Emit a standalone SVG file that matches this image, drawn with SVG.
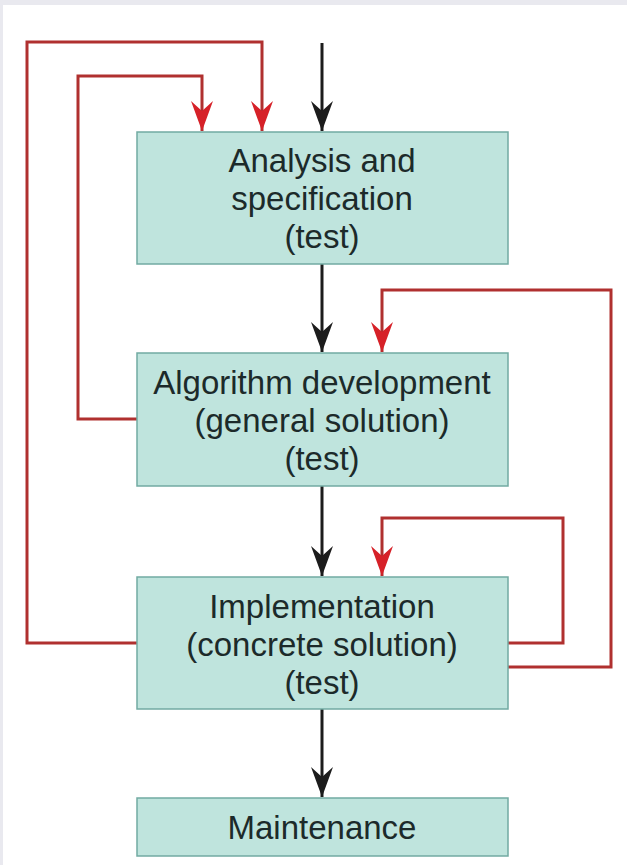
<svg xmlns="http://www.w3.org/2000/svg" width="627" height="865" viewBox="0 0 627 865">
<defs>
<style>
.box{fill:#bfe4dd;stroke:#72aaa2;stroke-width:1.5}
.lbl{font-family:"Liberation Sans",Arial,sans-serif;font-size:33px;fill:#1c2a2a;text-anchor:middle}
.blk{fill:none;stroke:#1c1c1c;stroke-width:3}
.red{fill:none;stroke:#b0302f;stroke-width:3}
</style>
<marker id="ahB" viewBox="-31 -12 32 24" markerWidth="32" markerHeight="24" refX="0" refY="0" markerUnits="userSpaceOnUse" orient="auto">
<path d="M0,0 L-30,-11 L-20,0 L-30,11 Z" fill="#1c1c1c"/>
</marker>
<marker id="ahR" viewBox="-31 -12 32 24" markerWidth="32" markerHeight="24" refX="0" refY="0" markerUnits="userSpaceOnUse" orient="auto">
<path d="M0,0 L-30,-11 L-20,0 L-30,11 Z" fill="#d62128"/>
</marker>
</defs>
<rect x="0" y="0" width="627" height="865" fill="#e9e9ef"/>
<rect x="3" y="5" width="624" height="860" fill="#ffffff"/>
<g id="connectors">
<path class="blk" d="M322,43 V131" marker-end="url(#ahB)"/>
<path class="blk" d="M322,264 V352" marker-end="url(#ahB)"/>
<path class="blk" d="M322,486 V576" marker-end="url(#ahB)"/>
<path class="blk" d="M322,709 V797" marker-end="url(#ahB)"/>
<path class="red" d="M137,643 H27 V42 H262 V131" marker-end="url(#ahR)"/>
<path class="red" d="M137,419 H78 V76 H202 V131" marker-end="url(#ahR)"/>
<path class="red" d="M508,667 H611 V290 H382 V352" marker-end="url(#ahR)"/>
<path class="red" d="M508,643 H563 V518 H382 V576" marker-end="url(#ahR)"/>
</g>
<g id="analysis">
<rect class="box" x="137" y="132" width="371" height="132"/>
<text class="lbl" x="322" y="172">Analysis and</text>
<text class="lbl" x="322" y="210">specification</text>
<text class="lbl" x="322" y="248">(test)</text>
</g>
<g id="algorithm">
<rect class="box" x="137" y="353" width="371" height="133"/>
<text class="lbl" x="322" y="394">Algorithm development</text>
<text class="lbl" x="322" y="432">(general solution)</text>
<text class="lbl" x="322" y="470">(test)</text>
</g>
<g id="implementation">
<rect class="box" x="137" y="577" width="371" height="132"/>
<text class="lbl" x="322" y="618">Implementation</text>
<text class="lbl" x="322" y="656">(concrete solution)</text>
<text class="lbl" x="322" y="694">(test)</text>
</g>
<g id="maintenance">
<rect class="box" x="137" y="798" width="371" height="58"/>
<text class="lbl" x="322" y="839">Maintenance</text>
</g>
</svg>
